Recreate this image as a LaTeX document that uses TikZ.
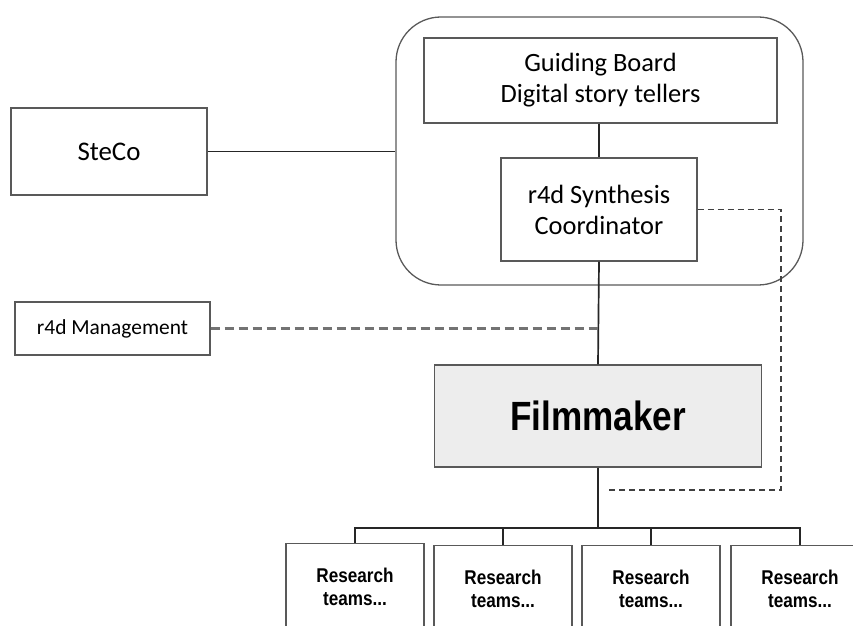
\documentclass[tikz,border=0pt]{standalone}
\usepackage{fontspec}
\setmainfont{Carlito}
\newfontfamily\narrowsans[FakeStretch=0.86]{Liberation Sans}
\usetikzlibrary{positioning}

\begin{document}
\begin{tikzpicture}[x=1bp, y=-1bp, semithick,
    box/.style={draw=black!65, line width=1.3pt, align=center, font=\fontsize{26.5}{31}\selectfont, inner sep=0pt},
    group/.style={draw=black!65, line width=1.3pt, rounded corners=45bp},
    team/.style={box, anchor=north, minimum width=138bp, minimum height=86bp, font=\narrowsans\bfseries\fontsize{20}{23}\selectfont},
    link/.style={draw=black!85, line width=1.7pt},
    mgmtlink/.style={draw=black!55, line width=3.2pt, dash pattern=on 9bp off 5bp},
    synlink/.style={draw=black!75, line width=1.8pt, dash pattern=on 6bp off 4bp}]
    \useasboundingbox (0,0) rectangle (853,626);
    \clip (0,0) rectangle (853,626);

    \node[group, minimum width=407bp, minimum height=268bp] (board) at (599.5,151) {};
    \node[box, minimum width=353bp, minimum height=85bp] (guiding) at (600.5,80.5) {Guiding Board\\Digital story tellers};
    \node[box, minimum width=196bp, minimum height=103bp] (synth) at (599,209.5) {r4d Synthesis\\Coordinator};
    \node[box, minimum width=196bp, minimum height=87bp, font=\fontsize{27}{31}\selectfont] (steco) at (109,151.5) {SteCo};
    \node[box, minimum width=195bp, minimum height=53bp, font=\fontsize{21.5}{25}\selectfont] (mgmt) at (112.5,328.5) {r4d Management};
    \node[box, fill=black!7, minimum width=327bp, minimum height=102bp, font=\narrowsans\bfseries\fontsize{41}{48}\selectfont] (film) at (598,416) {Filmmaker};

    \node[team] (t1) at (355,543) {Research\\teams...};
    \node[team] (t2) at (503,545) {Research\\teams...};
    \node[team] (t3) at (651,545) {Research\\teams...};
    \node[team] (t4) at (800,545) {Research\\teams...};

    \coordinate (bus) at (598,528);
    \coordinate (bend) at (781,490);
    \coordinate (dashend) at (605,490);

    \path[link] (steco.east) -- (steco.east -| board.west);
    \path[link] (guiding.south -| synth.north) -- (synth.north);
    \path[link] (synth.south) -- (film.north);
    \path[link] (film.south) -- (bus);
    \path[link] (t1.north) |- (bus) -| (t4.north);
    \path[link] (t2.north) -- (t2.north |- bus);
    \path[link] (t3.north) -- (t3.north |- bus);

    \path[mgmtlink] (mgmt.east) -- (mgmt.east -| film.north);
    \path[synlink] (synth.east) -| (bend) -- (dashend);
\end{tikzpicture}
\end{document}
